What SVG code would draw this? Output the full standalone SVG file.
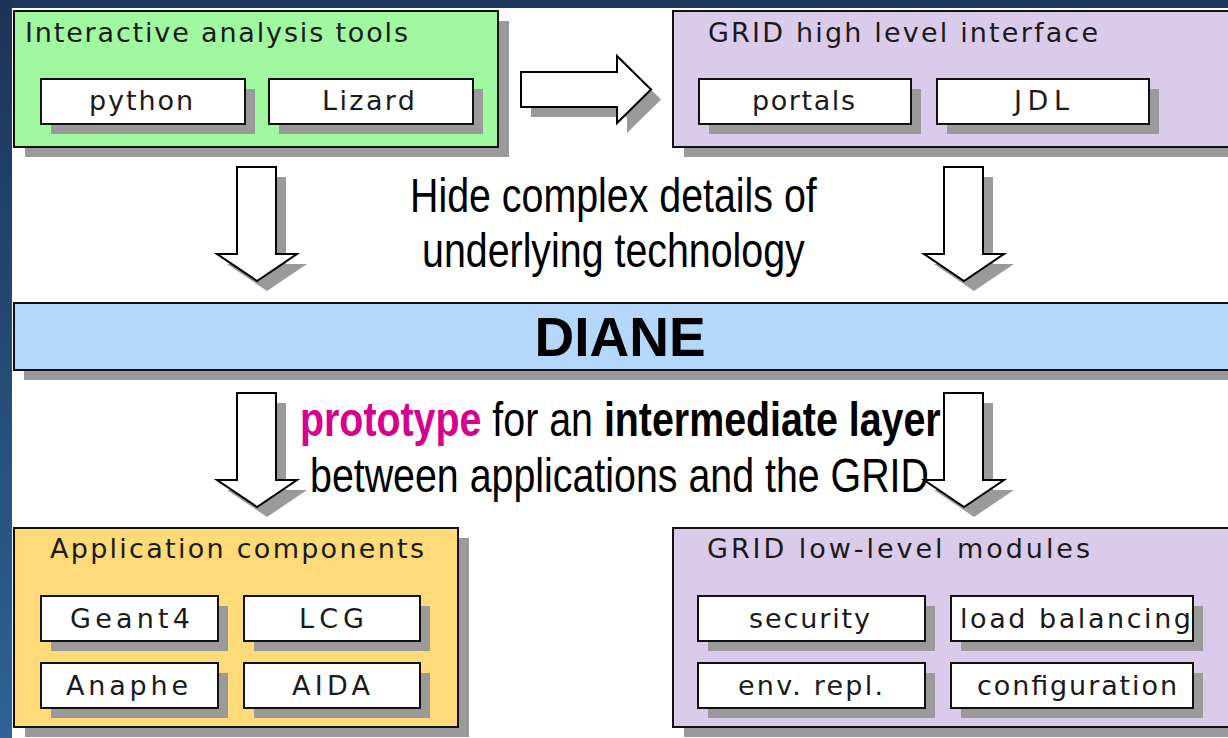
<svg xmlns="http://www.w3.org/2000/svg" width="1228" height="738" viewBox="0 0 1228 738">
<defs>
<linearGradient id="side" x1="0" y1="0" x2="0" y2="1">
<stop offset="0" stop-color="#1c3557"/>
<stop offset="1" stop-color="#2f6296"/>
</linearGradient>
<polygon id="arrowDown" points="0,0 39,0 39,87 60,87 20,114 -20,87 0,87"/>
<polygon id="arrowRight" points="0,0 96,0 96,-16 130,17.5 96,51 96,35 0,35"/>
</defs>
<style>
.box{stroke:#111;stroke-width:2}
.shadow{fill:#9a9a9a;stroke:none}
.inner{fill:#fff;stroke:#111;stroke-width:2}
.lbl{font-family:"DejaVu Sans","Liberation Sans",Arial,sans-serif;font-size:27px;fill:#1a1a1a}
.big{font-family:"Liberation Sans",Arial,sans-serif;font-size:48px;fill:#000}
.b{font-weight:bold}
.pink{fill:#d6008f}
.arrow{fill:#fff;stroke:#000;stroke-width:2;stroke-linejoin:miter}
.green{fill:#a0f8a0}
.purple{fill:#dacbeb}
.yellow{fill:#ffda78}
.blue{fill:#b4d7fb}
</style>
<rect x="0" y="0" width="1228" height="738" fill="#fff"/>
<rect x="0" y="0" width="1228" height="8" fill="#1d385a"/>
<rect x="0" y="0" width="12" height="738" fill="url(#side)"/>

<g id="connectors">
<use href="#arrowRight" x="531" y="82" class="shadow"/>
<use href="#arrowRight" x="521" y="72" class="arrow"/>
<use href="#arrowDown" x="247" y="177" class="shadow"/>
<use href="#arrowDown" x="237" y="167" class="arrow"/>
<use href="#arrowDown" x="954" y="177" class="shadow"/>
<use href="#arrowDown" x="944" y="167" class="arrow"/>
<use href="#arrowDown" x="247" y="403" class="shadow"/>
<use href="#arrowDown" x="237" y="393" class="arrow"/>
<use href="#arrowDown" x="954" y="403" class="shadow"/>
<use href="#arrowDown" x="944" y="393" class="arrow"/>
</g>

<g id="interactive">
<rect x="25" y="21" width="484" height="136" class="shadow"/>
<rect x="14" y="11" width="484" height="136" class="box green"/>
<text x="25" y="42" class="lbl" textLength="383" lengthAdjust="spacing">Interactive analysis tools</text>
<g id="python">
<rect x="51" y="89" width="204" height="45" class="shadow"/>
<rect x="41" y="79" width="204" height="45" class="inner"/>
<text x="89" y="110" class="lbl" textLength="104" lengthAdjust="spacing">python</text>
</g>
<g id="lizard">
<rect x="279" y="89" width="204" height="45" class="shadow"/>
<rect x="269" y="79" width="204" height="45" class="inner"/>
<text x="322" y="110" class="lbl" textLength="93" lengthAdjust="spacing">Lizard</text>
</g>
</g>

<g id="grid-high">
<rect x="684" y="21" width="570" height="136" class="shadow"/>
<rect x="673" y="11" width="570" height="136" class="box purple"/>
<text x="708" y="42" class="lbl" textLength="390" lengthAdjust="spacing">GRID high level interface</text>
<g id="portals">
<rect x="709" y="89" width="212" height="45" class="shadow"/>
<rect x="699" y="79" width="212" height="45" class="inner"/>
<text x="752" y="110" class="lbl" textLength="103" lengthAdjust="spacing">portals</text>
</g>
<g id="jdl">
<rect x="947" y="89" width="212" height="45" class="shadow"/>
<rect x="937" y="79" width="212" height="45" class="inner"/>
<text x="1014" y="110" class="lbl" textLength="55" lengthAdjust="spacing">JDL</text>
</g>
</g>

<g id="note-hide">
<text transform="translate(410,212) scale(0.82,1)" class="big">Hide complex details of</text>
<text transform="translate(422,267) scale(0.82,1)" class="big">underlying technology</text>
</g>

<g id="diane">
<rect x="24" y="313" width="1230" height="67" class="shadow"/>
<rect x="14" y="303" width="1230" height="67" class="box blue"/>
<text x="620" y="356" text-anchor="middle" font-family="'Liberation Sans',Arial,sans-serif" font-size="55" font-weight="bold" fill="#000">DIANE</text>
</g>

<g id="note-proto">
<text transform="translate(300,436) scale(0.82,1)" class="big"><tspan class="b pink">prototype</tspan> for an <tspan class="b">intermediate layer</tspan></text>
<text transform="translate(310,492) scale(0.82,1)" class="big">between applications and the GRID</text>
</g>

<g id="app-components">
<rect x="25" y="538" width="444" height="199" class="shadow"/>
<rect x="14" y="528" width="444" height="199" class="box yellow"/>
<text x="50" y="558" class="lbl" textLength="374" lengthAdjust="spacing">Application components</text>
<g id="geant4">
<rect x="51" y="606" width="177" height="45" class="shadow"/>
<rect x="41" y="596" width="177" height="45" class="inner"/>
<text x="70" y="628" class="lbl" textLength="120" lengthAdjust="spacing">Geant4</text>
</g>
<g id="lcg">
<rect x="254" y="606" width="176" height="45" class="shadow"/>
<rect x="244" y="596" width="176" height="45" class="inner"/>
<text x="299" y="628" class="lbl" textLength="65" lengthAdjust="spacing">LCG</text>
</g>
<g id="anaphe">
<rect x="51" y="673" width="177" height="45" class="shadow"/>
<rect x="41" y="663" width="177" height="45" class="inner"/>
<text x="66" y="695" class="lbl" textLength="122" lengthAdjust="spacing">Anaphe</text>
</g>
<g id="aida">
<rect x="254" y="673" width="176" height="45" class="shadow"/>
<rect x="244" y="663" width="176" height="45" class="inner"/>
<text x="292" y="695" class="lbl" textLength="78" lengthAdjust="spacing">AIDA</text>
</g>
</g>

<g id="grid-low">
<rect x="684" y="538" width="570" height="199" class="shadow"/>
<rect x="673" y="528" width="570" height="199" class="box purple"/>
<text x="707" y="558" class="lbl" textLength="383" lengthAdjust="spacing">GRID low-level modules</text>
<g id="security">
<rect x="708" y="606" width="227" height="45" class="shadow"/>
<rect x="698" y="596" width="227" height="45" class="inner"/>
<text x="749" y="628" class="lbl" textLength="121" lengthAdjust="spacing">security</text>
</g>
<g id="load-balancing">
<rect x="961" y="606" width="242" height="45" class="shadow"/>
<rect x="951" y="596" width="242" height="45" class="inner"/>
<text x="960" y="628" class="lbl" textLength="231" lengthAdjust="spacing">load balancing</text>
</g>
<g id="env-repl">
<rect x="708" y="673" width="227" height="45" class="shadow"/>
<rect x="698" y="663" width="227" height="45" class="inner"/>
<text x="738" y="695" class="lbl" textLength="145" lengthAdjust="spacing">env. repl.</text>
</g>
<g id="configuration">
<rect x="961" y="673" width="242" height="45" class="shadow"/>
<rect x="951" y="663" width="242" height="45" class="inner"/>
<text x="977" y="695" class="lbl" textLength="200" lengthAdjust="spacing">configuration</text>
</g>
</g>
</svg>
